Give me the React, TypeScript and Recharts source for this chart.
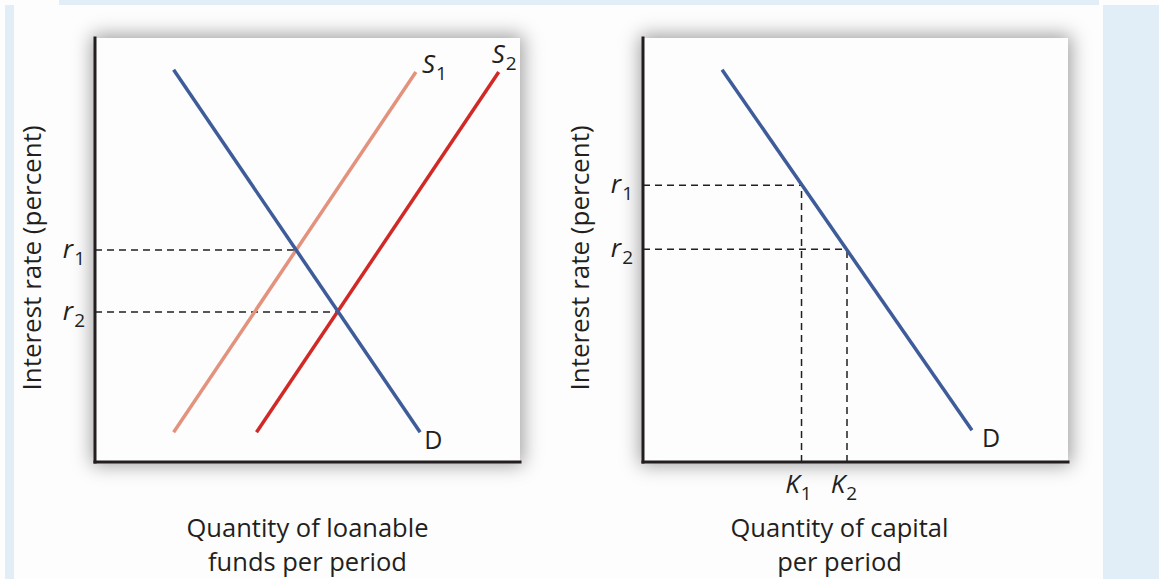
import React from "react";
import { LineChart, Line, XAxis, YAxis, Label } from "recharts";

// loanable funds market (left panel)
const demandFunds = [
  { x: 1.85, y: 9.25 },
  { x: 7.65, y: 0.7 },
];
const supply1 = [
  { x: 1.85, y: 0.7 },
  { x: 7.55, y: 9.2 },
];
const supply2 = [
  { x: 3.8, y: 0.7 },
  { x: 9.5, y: 9.2 },
];
const fundsRates = [5.0, 3.54];
const fundsEquilibriumQ = [4.73, 5.72];

// capital market (right panel)
const demandCapital = [
  { x: 1.86, y: 9.25 },
  { x: 7.74, y: 0.75 },
];
const capitalRates = [6.53, 5.02];
const capitalQ = [3.73, 4.8];

const rateLabels = ["1", "2"];
const capitalLabels = ["1", "2"];

const FONT = "'Open Sans', sans-serif";
const INK = "#231f20";
const BLUE = "#3e5c9a";
const SALMON = "#e3927e";
const RED = "#d12a26";
const BG = "#e1edf7";

const hline = (y: number, x: number) => [
  { x: 0, y },
  { x, y },
];
const vline = (x: number, y: number) => [
  { x, y: 0 },
  { x, y },
];

function Sub({ x, y, main, sub, anchor = "start", size = 26 }: any) {
  return (
    <text x={x} y={y} fontFamily={FONT} fontSize={size} fill={INK} textAnchor={anchor}>
      <tspan fontStyle="italic">{main}</tspan>
      <tspan fontSize={19} dy={7} dx={1}>
        {sub}
      </tspan>
    </text>
  );
}

function endLabel(text: React.ReactNode, dx: number, dy: number, sub?: string) {
  return (props: any) => {
    const { cx, cy, index } = props;
    if (index !== 1) return <g key={`d${index}`} />;
    if (sub)
      return (
        <g key={`d${index}`}>
          <Sub x={cx + dx} y={cy + dy} main={text} sub={sub} />
        </g>
      );
    return (
      <text key={`d${index}`} x={cx + dx} y={cy + dy} fontFamily={FONT} fontSize={25} fill={INK}>
        {text}
      </text>
    );
  };
}

function RateTick(props: any) {
  const { x, y, payload, rates } = props;
  const i = rates.indexOf(payload.value);
  return <Sub x={x - 2} y={y + 8} main="r" sub={rateLabels[i]} anchor="end" />;
}

function CapitalTick(props: any) {
  const { x, y, payload } = props;
  const i = capitalQ.indexOf(payload.value);
  return <Sub x={x - 3} y={y + 23} main="K" sub={capitalLabels[i]} anchor="middle" />;
}

function YTitle({ viewBox }: any) {
  const x = viewBox.x + 41;
  const y = 258;
  return (
    <text x={x} y={y} transform={`rotate(-90, ${x}, ${y})`} textAnchor="middle" fontFamily={FONT} fontSize={26} fill={INK}>
      Interest rate (percent)
    </text>
  );
}

function xTitle(lines: string[], shift: number) {
  return ({ viewBox }: any) => {
    const cx = viewBox.x + viewBox.width / 2 + shift;
    return (
      <g>
        {lines.map((l, i) => (
          <text key={l} x={cx} y={537 + i * 34} textAnchor="middle" fontFamily={FONT} fontSize={25.5} fill={INK}>
            {l}
          </text>
        ))}
      </g>
    );
  };
}

const axisLine = { stroke: INK, strokeWidth: 3, strokeLinecap: "square" as const };
const dash = { stroke: INK, strokeWidth: 1.5, strokeDasharray: "7 5", dot: false, isAnimationActive: false };

function FundsPanel() {
  return (
    <LineChart width={560} height={579} margin={{ top: 38, right: 40, bottom: 0, left: 0 }} style={{ position: "absolute", left: 0, top: 0 }}>
      <XAxis dataKey="x" type="number" domain={[0, 10]} allowDataOverflow height={117} tick={false} tickLine={false} axisLine={axisLine}>
        <Label content={xTitle(["Quantity of loanable", "funds per period"], 0)} />
      </XAxis>
      <YAxis
        type="number"
        domain={[0, 10]}
        width={95}
        ticks={fundsRates}
        tickLine={false}
        axisLine={axisLine}
        tick={<RateTick rates={fundsRates} />}
      >
        <Label content={YTitle} />
      </YAxis>
      {fundsRates.map((r, i) => (
        <Line key={`h${i}`} data={hline(r, fundsEquilibriumQ[i])} dataKey="y" {...dash} />
      ))}
      <Line data={supply1} dataKey="y" stroke={SALMON} strokeWidth={3.5} isAnimationActive={false} dot={endLabel("S", 6, 1, "1")} />
      <Line data={supply2} dataKey="y" stroke={RED} strokeWidth={3.5} isAnimationActive={false} dot={endLabel("S", -7, -9, "2")} />
      <Line data={demandFunds} dataKey="y" stroke={BLUE} strokeWidth={3.5} isAnimationActive={false} dot={endLabel("D", 4, 17)} />
    </LineChart>
  );
}

function CapitalPanel() {
  return (
    <LineChart width={560} height={579} margin={{ top: 38, right: 40, bottom: 0, left: 0 }} style={{ position: "absolute", left: 548, top: 0 }}>
      <XAxis
        dataKey="x"
        type="number"
        domain={[0, 10]}
        allowDataOverflow
        height={117}
        ticks={capitalQ}
        tickLine={false}
        axisLine={axisLine}
        tick={<CapitalTick />}
      >
        <Label content={xTitle(["Quantity of capital", "per period"], -16)} />
      </XAxis>
      <YAxis
        type="number"
        domain={[0, 10]}
        width={95}
        ticks={capitalRates}
        tickLine={false}
        axisLine={axisLine}
        tick={<RateTick rates={capitalRates} />}
      >
        <Label content={YTitle} />
      </YAxis>
      {capitalRates.map((r, i) => (
        <Line key={`h${i}`} data={hline(r, capitalQ[i])} dataKey="y" {...dash} />
      ))}
      {capitalQ.map((q, i) => (
        <Line key={`v${i}`} data={vline(q, capitalRates[i])} dataKey="y" {...dash} />
      ))}
      <Line data={demandCapital} dataKey="y" stroke={BLUE} strokeWidth={3.5} isAnimationActive={false} dot={endLabel("D", 10, 17)} />
    </LineChart>
  );
}

const panelBox = {
  position: "absolute" as const,
  top: 38,
  width: 425,
  height: 424,
  background: "#fdfdfd",
  boxShadow: "0 0 18px 3px rgba(0,0,0,0.38)",
};

export default function App() {
  return (
    <div style={{ position: "absolute", left: 0, top: 0, width: 1159, height: 579, background: "#fdfdfd", overflow: "hidden" }}>
      <div style={{ position: "absolute", left: 59, top: 0, width: 1040, height: 5, background: BG }} />
      <div style={{ position: "absolute", left: 5, top: 5, width: 9, height: 574, background: BG }} />
      <div style={{ position: "absolute", left: 1103, top: 5, width: 56, height: 574, background: BG }} />
      <div style={{ ...panelBox, left: 95 }} />
      <div style={{ ...panelBox, left: 643 }} />
      <FundsPanel />
      <CapitalPanel />
    </div>
  );
}
